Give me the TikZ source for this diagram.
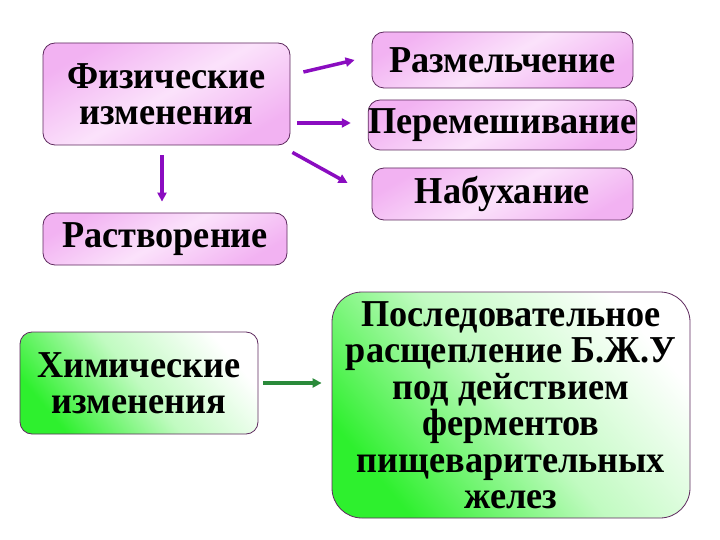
\documentclass[tikz,border=0pt]{standalone}
\usepackage{fontspec}
\setmainfont[FakeStretch=0.955]{Liberation Serif}
\usetikzlibrary{calc,arrows.meta}
\definecolor{pinkA}{HTML}{F2B2F2}
\definecolor{pinkB}{HTML}{FBE2FB}
\definecolor{greenA}{HTML}{2EF02E}
\definecolor{edgeC}{HTML}{5E2A5E}
\definecolor{arrP}{HTML}{8A0CC0}
\definecolor{arrG}{HTML}{2A8A3A}
\tikzset{
  box/.style={draw=edgeC, line width=0.8pt, rounded corners=12pt, inner sep=0pt,
    align=center, font=\fontsize{38}{36.5}\selectfont\bfseries},
  pinkbox/.style={box, top color=pinkA, bottom color=pinkA, middle color=pinkB, shading angle=30},
  greenbox/.style={box, top color=white, bottom color=greenA, middle color=white!70!greenA, shading angle=-50},
  parr/.style={draw=arrP, line width=3.5pt, -{Triangle[length=9pt,width=9pt]}},
  garr/.style={draw=arrG, line width=3.5pt, -{Triangle[length=9pt,width=9pt]}},
}
\begin{document}
\begin{tikzpicture}[x=1pt,y=-1pt]
\useasboundingbox[fill=white] (0,0) rectangle (720,540);
\node[pinkbox, minimum width=247pt, minimum height=102pt] (phys) at (166.5,94) {Физические\\изменения};
\node[pinkbox, minimum width=244pt, minimum height=52pt] (rast) at (165,239) {Растворение};
\node[pinkbox, minimum width=261pt, minimum height=56pt] (razm) at (502.5,60) {Размельчение};
\node[pinkbox, minimum width=261pt, minimum height=50pt] (perem) at (502.5,125) {Перемешивание};
\node[pinkbox, minimum width=261pt, minimum height=52pt] (nab) at (502.5,194) {Набухание};
\node[greenbox, minimum width=238pt, minimum height=102pt] (chem) at (139,383) {Химические\\изменения};
\node[greenbox, rounded corners=30pt, minimum width=358pt, minimum height=226pt] (posl) at (511,405)
  {Последовательное\\расщепление Б.Ж.У\\под действием\\ферментов\\пищеварительных\\желез};
\draw[parr] ($(phys.east)+(13,-22)$) -- ($(razm.west)+(-17,0)$);
\draw[parr] ($(phys.east)+(7,29)$) -- ($(perem.west)+(-17,-2)$);
\draw[parr] ($(phys.south east)+(2,7)$) -- ($(nab.west)+(-24,-11)$);
\draw[parr] ($(phys.south)+(-4.5,10)$) -- ($(rast.north)+(-3,-11)$);
\draw[garr] ($(chem.east)+(5,0)$) -- ($(posl.west)+(-10,-22)$);
\end{tikzpicture}
\end{document}
